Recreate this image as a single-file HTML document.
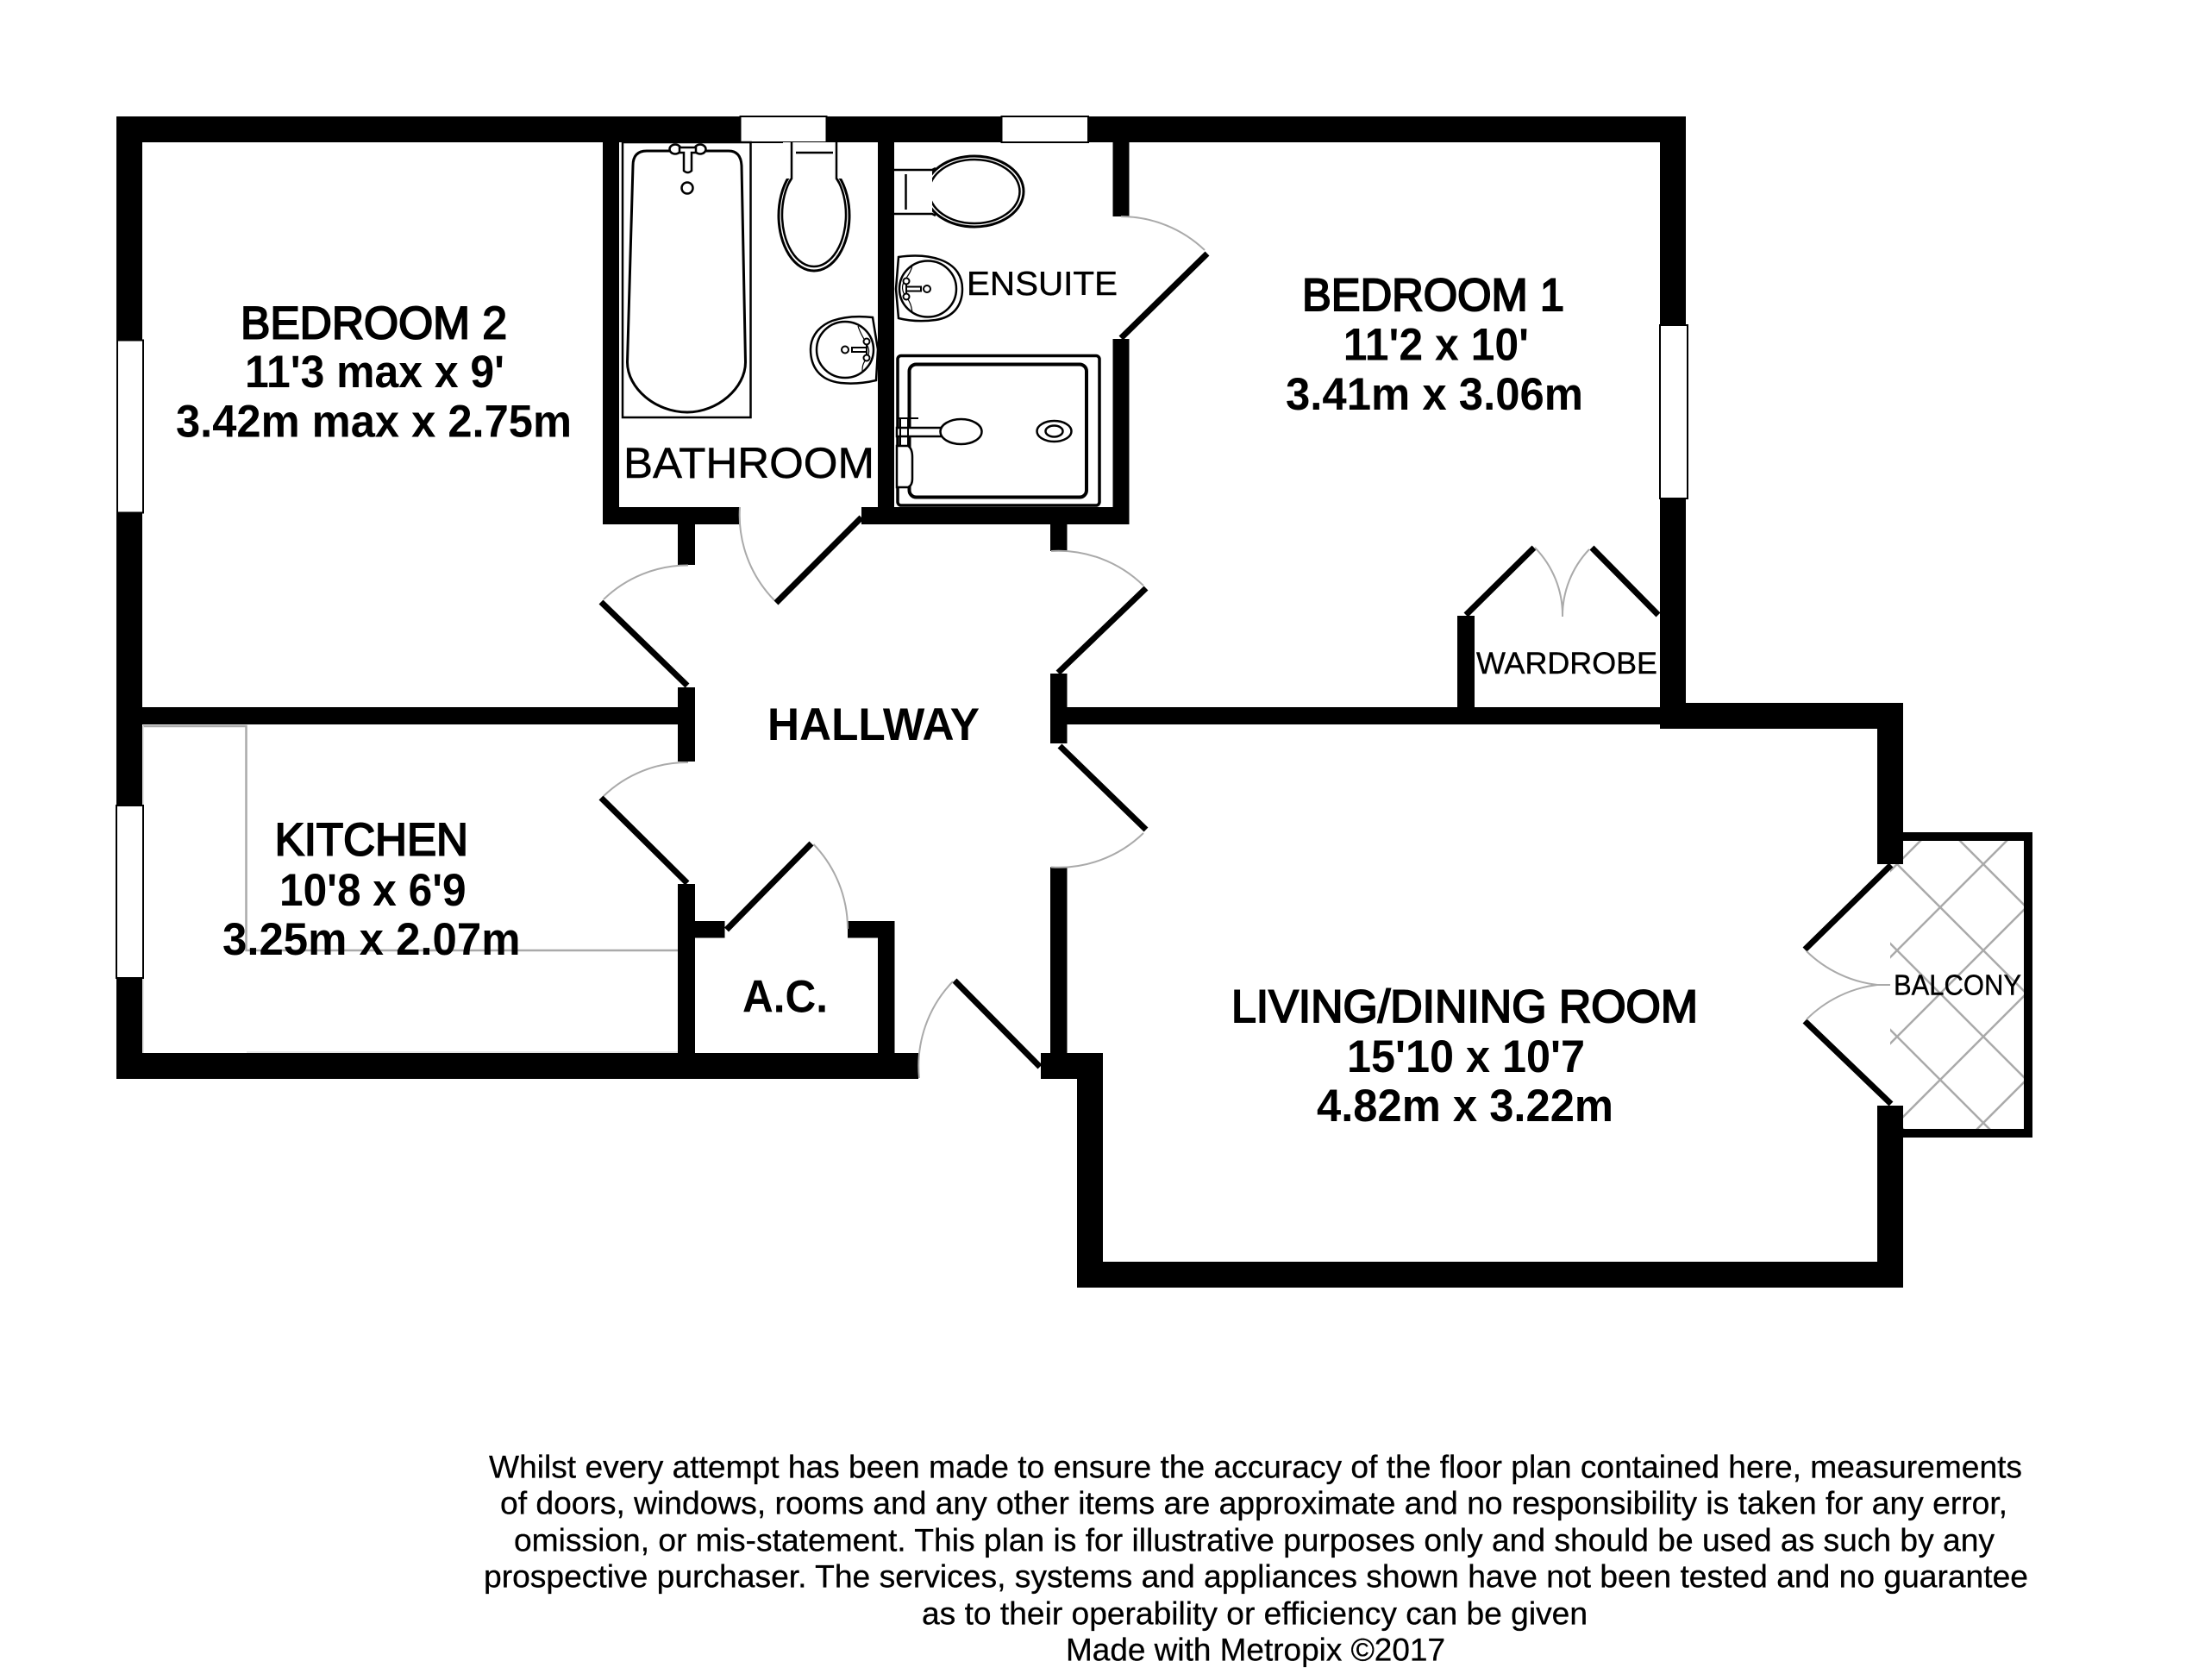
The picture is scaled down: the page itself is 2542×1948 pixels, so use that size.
<!DOCTYPE html>
<html>
<head>
<meta charset="utf-8">
<style>
html,body{margin:0;padding:0;background:#fff;}
svg{display:block;}
text{font-family:"Liberation Sans",Arial,sans-serif;fill:#000;}
.r{font-size:53px;stroke:#000;stroke-width:2px;}
.b{font-size:53px;font-weight:bold;}
.t{font-size:50px;stroke:#000;stroke-width:0.5px;}
.d{font-size:37px;stroke:#000;stroke-width:0.3px;}
.s{stroke:#000;stroke-width:0.4px;}
</style>
</head>
<body>
<svg xmlns="http://www.w3.org/2000/svg" width="2542" height="1948" viewBox="0 0 2542 1948">
<defs>
<clipPath id="balc"><rect x="2192" y="975" width="155" height="334"/></clipPath>
</defs>
<rect width="2542" height="1948" fill="#fff"/>

<!-- balcony hatch -->
<g clip-path="url(#balc)" stroke="#aaa" stroke-width="2.5" fill="none">
<line x1="2100" y1="1102" x2="2400" y2="802"/>
<line x1="2100" y1="1202" x2="2400" y2="902"/>
<line x1="2100" y1="1302" x2="2400" y2="1002"/>
<line x1="2100" y1="1402" x2="2400" y2="1102"/>
<line x1="2100" y1="1502" x2="2400" y2="1202"/>
<line x1="2100" y1="1602" x2="2400" y2="1302"/>
<line x1="2100" y1="802" x2="2500" y2="1202"/>
<line x1="2100" y1="902" x2="2500" y2="1302"/>
<line x1="2100" y1="1002" x2="2500" y2="1402"/>
<line x1="2100" y1="1102" x2="2500" y2="1502"/>
<line x1="2100" y1="1202" x2="2500" y2="1602"/>
</g>
<!-- kitchen counter -->
<g stroke="#aaa" stroke-width="2.5" fill="none">
<polyline points="166,842 285.5,842 285.5,1102 786,1102"/>
<line x1="166" y1="842" x2="166" y2="1221" stroke="#ddd" stroke-width="1.5"/>
<line x1="286" y1="1220" x2="786" y2="1220" stroke="#ddd" stroke-width="1.5"/>
</g>

<!-- walls -->
<g fill="#000">
<rect x="135" y="135" width="1820" height="30"/>
<rect x="135" y="135" width="30" height="1116"/>
<rect x="135" y="1221" width="930" height="30"/>
<rect x="1925" y="135" width="30" height="710"/>
<rect x="1925" y="815" width="282" height="30"/>
<rect x="2177" y="815" width="30" height="187"/>
<rect x="2177" y="1282" width="30" height="211"/>
<rect x="1249" y="1463" width="958" height="30"/>
<rect x="1249" y="1221" width="30" height="272"/>
<rect x="1207" y="1221" width="72" height="30"/>
<rect x="165" y="820" width="621" height="20"/>
<rect x="1237" y="820" width="688" height="20"/>
<rect x="1690" y="714" width="20" height="110"/>
<rect x="699" y="165" width="19" height="443"/>
<rect x="1018" y="165" width="19" height="443"/>
<rect x="1290.5" y="165" width="19" height="86"/>
<rect x="1290.5" y="393" width="19" height="215"/>
<rect x="699" y="588" width="158" height="20"/>
<rect x="999" y="588" width="310" height="20"/>
<rect x="786" y="608" width="20" height="47"/>
<rect x="1218" y="608" width="19.5" height="31"/>
<rect x="786" y="797" width="20" height="86"/>
<rect x="786" y="1025" width="20" height="226"/>
<rect x="1218" y="781" width="19.5" height="81"/>
<rect x="1218" y="1005.5" width="19.5" height="235"/>
<rect x="806" y="1068" width="34.5" height="19.5"/>
<rect x="983" y="1068" width="54.5" height="19.5"/>
<rect x="1018" y="1068" width="19.5" height="170"/>
<!-- balcony frame -->
<rect x="2207" y="965" width="150" height="10"/>
<rect x="2347" y="965" width="10" height="354"/>
<rect x="2207" y="1309" width="150" height="10"/>
</g>

<!-- windows -->
<g fill="#fff" stroke="#000" stroke-width="2">
<rect x="136" y="394.5" width="30" height="200"/>
<rect x="135" y="934" width="31" height="200"/>
<rect x="1925" y="377" width="32" height="201"/>
<rect x="858.5" y="135" width="100" height="30"/>
<rect x="1161.5" y="135" width="100.5" height="30"/>
</g>

<!-- door leaves -->
<g stroke="#000" stroke-width="7" fill="none" stroke-linecap="butt">
<line x1="999" y1="600" x2="900" y2="699"/>
<line x1="1300" y1="392" x2="1400" y2="294"/>
<line x1="697" y1="698" x2="797" y2="795"/>
<line x1="697" y1="925" x2="797" y2="1024"/>
<line x1="1227" y1="780" x2="1329" y2="682"/>
<line x1="1229" y1="865" x2="1329" y2="962"/>
<line x1="842.5" y1="1078" x2="941" y2="978"/>
<line x1="1107" y1="1137" x2="1206" y2="1237"/>
<line x1="1700" y1="713" x2="1779" y2="635"/>
<line x1="1846" y1="635" x2="1923" y2="713"/>
<line x1="2193" y1="1003" x2="2093" y2="1101"/>
<line x1="2093" y1="1184" x2="2193" y2="1280"/>
</g>
<!-- door arcs -->
<g stroke="#aaa" stroke-width="2" fill="none">
<path d="M858,588 A141,141 0 0 0 898,696"/>
<path d="M1300,251 A141,141 0 0 1 1397,290"/>
<path d="M700,695 A140,140 0 0 1 798,655.5"/>
<path d="M700,923 A140,140 0 0 1 798,884"/>
<path d="M1219,639 A141,141 0 0 1 1326,679"/>
<path d="M1326,966 A141,141 0 0 1 1219,1005.5"/>
<path d="M943.5,979 A141,141 0 0 1 983,1077"/>
<path d="M1066,1250 A141,141 0 0 1 1105,1138"/>
<path d="M1780,635 A112,112 0 0 1 1812,715"/>
<path d="M1812,715 A112,112 0 0 1 1843,637"/>
<path d="M2095,1103 A140,140 0 0 0 2177,1142 L2192,1142"/>
<path d="M2095,1182 A140,140 0 0 1 2177,1142"/>
</g>

<!-- bath -->
<g fill="none" stroke="#000">
<rect x="722" y="165" width="148.5" height="319" stroke-width="2.5"/>
<path d="M734,192 Q734,175 750,175 L845,175 Q859,175 860,192 L864.5,420 C864.5,450 832,478 797,478 C760,478 727.5,450 727.5,420 Z" stroke-width="3"/>
<g fill="#fff" stroke-width="2.5">
<ellipse cx="783" cy="173" rx="6.5" ry="5.5"/>
<ellipse cx="812" cy="173" rx="6.5" ry="5.5"/>
<path d="M788,171 L807,171 L807,177 L802,177 L802,198 Q797.5,202 793,198 L793,177 L788,177 Z"/>
<ellipse cx="797" cy="218" rx="6.5" ry="6.5"/>
</g>
<!-- bath toilet -->
<ellipse cx="944" cy="250" rx="41" ry="64" stroke-width="3" fill="#fff"/>
<ellipse cx="944" cy="249" rx="37" ry="60" stroke-width="2.5" fill="#fff"/>
<rect x="908" y="165" width="72" height="42" fill="#fff" stroke="none"/>
<path d="M918,165 L918,207 L915,212 M970,165 L970,207 L973,212" stroke-width="2.5"/>
<line x1="923" y1="177" x2="966" y2="177" stroke-width="2.5"/>
<!-- bath sink -->
<path d="M1012,368 Q985,365 965,372 C945,380 940,395 940,405 C940,425 950,441 975,444 Q995,446 1016,441 L1018,405 Z" stroke-width="2.5" fill="#fff"/>
<ellipse cx="980" cy="405.5" rx="33" ry="32.5" stroke-width="2.5"/>
<path d="M995,378 C1000,395 1012,402 1006,414 C1000,422 1000,425 1000,431" stroke-width="1.2"/>
<g stroke-width="2" fill="#fff">
<circle cx="980" cy="405.5" r="4"/>
<path d="M988,403 L1005,403 L1005,408 L988,408 Z"/>
<circle cx="1005" cy="396" r="3.5"/>
<circle cx="1005" cy="415" r="3.5"/>
<line x1="1005" y1="399" x2="1005" y2="412"/>
</g>
<!-- ensuite toilet -->
<ellipse cx="1130" cy="222" rx="57" ry="41" stroke-width="3" fill="#fff"/>
<ellipse cx="1130" cy="222" rx="52.5" ry="37" stroke-width="2.5" fill="#fff"/>
<rect x="1038" y="197" width="43" height="52" fill="#fff" stroke="none"/>
<path d="M1037,197 L1081,197 L1085,195 M1037,248 L1081,248 L1085,250" stroke-width="2.5"/>
<line x1="1050.5" y1="202" x2="1050.5" y2="243" stroke-width="2.5"/>
<!-- ensuite sink -->
<path d="M1042,298 Q1070,294 1090,301 C1110,308 1116,322 1116,335 C1116,355 1105,368 1085,371 Q1062,374 1042,369 L1039,335 Z" stroke-width="2.5" fill="#fff"/>
<ellipse cx="1076" cy="335" rx="33" ry="32.5" stroke-width="2.5"/>
<path d="M1058,307 C1056,322 1042,326 1048,340 C1056,350 1057,355 1058,363" stroke-width="1.2"/>
<g stroke-width="2" fill="#fff">
<circle cx="1075" cy="335" r="4"/>
<path d="M1051,332.5 L1068,332.5 L1068,337.5 L1051,337.5 Z"/>
<circle cx="1051" cy="326" r="3.5"/>
<circle cx="1051" cy="344" r="3.5"/>
<line x1="1051" y1="329" x2="1051" y2="341"/>
</g>
<!-- shower -->
<rect x="1041" y="412.5" width="234" height="173.5" rx="4" stroke-width="3.5"/>
<rect x="1054.5" y="422.5" width="205.5" height="154" rx="8" stroke-width="4"/>
<g fill="#fff" stroke-width="2.5">
<path d="M1040,496 L1092,496 L1092,506 L1040,506 Z"/>
<ellipse cx="1114.5" cy="500.5" rx="24" ry="14.5"/>
<path d="M1040,517 L1053,517 Q1058,520 1058,530 L1058,555 Q1058,563 1053,565 L1040,565 Z"/>
<path d="M1044,485 L1044,518 M1053,485 L1053,518 M1041,485 L1065,485" fill="none" stroke-width="2"/>
<ellipse cx="1222.5" cy="500" rx="20" ry="12"/>
<ellipse cx="1222.5" cy="500" rx="10" ry="6.5"/>
</g>
</g>

<!-- labels -->
<text class="r" x="279" y="392.5" textLength="309" lengthAdjust="spacingAndGlyphs">BEDROOM 2</text>
<text class="b" x="284" y="449" textLength="301" lengthAdjust="spacingAndGlyphs">11'3 max x 9'</text>
<text class="b" x="204" y="506.5" textLength="459" lengthAdjust="spacingAndGlyphs">3.42m max x 2.75m</text>

<text class="r" x="318.6" y="991.7" textLength="224.4" lengthAdjust="spacingAndGlyphs">KITCHEN</text>
<text class="b" x="324" y="1050" textLength="216.6" lengthAdjust="spacingAndGlyphs">10'8 x 6'9</text>
<text class="b" x="258" y="1107" textLength="345.5" lengthAdjust="spacingAndGlyphs">3.25m x 2.07m</text>

<text class="r" x="1510" y="360" textLength="304" lengthAdjust="spacingAndGlyphs">BEDROOM 1</text>
<text class="b" x="1557.7" y="417.7" textLength="215.3" lengthAdjust="spacingAndGlyphs">11'2 x 10'</text>
<text class="b" x="1491" y="475" textLength="345" lengthAdjust="spacingAndGlyphs">3.41m x 3.06m</text>

<text class="r" x="1428" y="1185" textLength="541" lengthAdjust="spacingAndGlyphs">LIVING/DINING ROOM</text>
<text class="b" x="1562" y="1243" textLength="276" lengthAdjust="spacingAndGlyphs">15'10 x 10'7</text>
<text class="b" x="1527" y="1300" textLength="344" lengthAdjust="spacingAndGlyphs">4.82m x 3.22m</text>

<text class="b" x="890" y="858" textLength="246" lengthAdjust="spacingAndGlyphs">HALLWAY</text>
<text class="b" x="861" y="1173.7" textLength="99" lengthAdjust="spacingAndGlyphs">A.C.</text>
<text class="t" x="723" y="554" textLength="291" lengthAdjust="spacingAndGlyphs">BATHROOM</text>
<text class="s" style="font-size:39px" x="1121" y="342" textLength="175" lengthAdjust="spacingAndGlyphs">ENSUITE</text>
<text class="s" style="font-size:35px" x="1712" y="781" textLength="210" lengthAdjust="spacingAndGlyphs">WARDROBE</text>
<text class="s" style="font-size:33px" x="2196" y="1153.6" textLength="148" lengthAdjust="spacingAndGlyphs">BALCONY</text>

<!-- disclaimer -->
<text class="d" x="567" y="1713.3" textLength="1778" lengthAdjust="spacingAndGlyphs">Whilst every attempt has been made to ensure the accuracy of the floor plan contained here, measurements</text>
<text class="d" x="580" y="1755.7" textLength="1748" lengthAdjust="spacingAndGlyphs">of doors, windows, rooms and any other items are approximate and no responsibility is taken for any error,</text>
<text class="d" x="596" y="1798.3" textLength="1717" lengthAdjust="spacingAndGlyphs">omission, or mis-statement. This plan is for illustrative purposes only and should be used as such by any</text>
<text class="d" x="561" y="1840.7" textLength="1791" lengthAdjust="spacingAndGlyphs">prospective purchaser. The services, systems and appliances shown have not been tested and no guarantee</text>
<text class="d" x="1069" y="1883.3" textLength="772" lengthAdjust="spacingAndGlyphs">as to their operability or efficiency can be given</text>
<text class="d" x="1236" y="1925.7" textLength="440" lengthAdjust="spacingAndGlyphs">Made with Metropix ©2017</text>
</svg>
</body>
</html>
